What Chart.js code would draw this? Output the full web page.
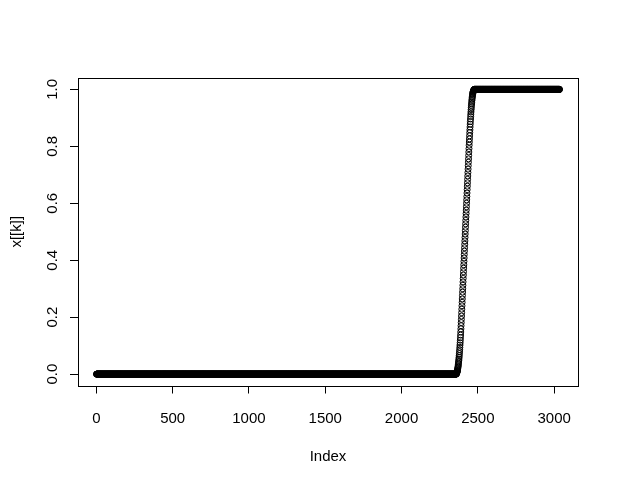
<!DOCTYPE html>
<html>
<head>
<meta charset="utf-8">
<script src="https://cdn.jsdelivr.net/npm/chart.js@4.4.1/dist/chart.umd.min.js"></script>
<style>
    html, body { margin: 0; padding: 0; background: #ffffff; }
    #plot { display: block; }
</style>
</head>
<body>
<canvas id="plot" width="618" height="484"></canvas>
<script>
// x[[k]] plotted against its index, R base-graphics style

// Flat part before the rise
const lowLevel = 0;
const lowCount = 2357;          // indices 1 .. 2357

// The rise, one value per index, starting at index 2358
const riseValues = [
    0.000, 0.001, 0.002, 0.003, 0.004, 0.006, 0.008, 0.010, 0.012, 0.015,
    0.018, 0.021, 0.025, 0.029, 0.033, 0.038, 0.043, 0.048, 0.053, 0.059,
    0.065, 0.072, 0.079, 0.086, 0.094, 0.102, 0.110, 0.119, 0.128, 0.137,
    0.148, 0.159, 0.170, 0.181, 0.192, 0.204, 0.216, 0.228, 0.240, 0.252,
    0.264, 0.276, 0.288, 0.300, 0.312, 0.324, 0.336, 0.348, 0.360, 0.372,
    0.384, 0.396, 0.408, 0.420, 0.432, 0.444, 0.456, 0.468, 0.480, 0.492,
    0.504, 0.516, 0.528, 0.540, 0.552, 0.564, 0.576, 0.588, 0.600, 0.612,
    0.624, 0.636, 0.648, 0.660, 0.672, 0.684, 0.696, 0.708, 0.720, 0.732,
    0.744, 0.756, 0.768, 0.780, 0.792, 0.804, 0.815, 0.826, 0.837, 0.848,
    0.858, 0.868, 0.878, 0.887, 0.896, 0.905, 0.913, 0.921, 0.929, 0.936,
    0.943, 0.949, 0.955, 0.961, 0.966, 0.971, 0.975, 0.979, 0.983, 0.986,
    0.989, 0.991, 0.993, 0.995, 0.996, 0.997, 0.998, 0.999, 0.999, 1.000
];

// Flat part after the rise
const highLevel = 1;
const highCount = 558;          // indices 2478 .. 3035

// Axis ticks
const xTicks = [0, 500, 1000, 1500, 2000, 2500, 3000];
const xTickLabels = ['0', '500', '1000', '1500', '2000', '2500', '3000'];
const yTicks = [0, 0.2, 0.4, 0.6, 0.8, 1.0];
const yTickLabels = ['0.0', '0.2', '0.4', '0.6', '0.8', '1.0'];

// Build the series
const series = [];
let idx = 1;
for (let i = 0; i < lowCount; i++) series.push({ x: idx++, y: lowLevel });
for (let i = 0; i < riseValues.length; i++) series.push({ x: idx++, y: riseValues[i] });
for (let i = 0; i < highCount; i++) series.push({ x: idx++, y: highLevel });
const n = series.length;

// R pads the data range by 4% on each side
const xPad = (n - 1) * 0.04;
const yPad = 0.04;

const FONT = 'Liberation Sans, Arial, sans-serif';

// Box round the plot area and the rotated y tick labels
const rAxesPlugin = {
    id: 'rAxes',
    afterDraw(chart) {
        const ctx = chart.ctx;
        const area = chart.chartArea;
        const yScale = chart.scales.y;
        ctx.save();
        ctx.strokeStyle = '#000000';
        ctx.lineWidth = 1;
        ctx.strokeRect(Math.round(area.left) + 0.5, Math.round(area.top) + 0.5,
            Math.round(area.right - area.left), Math.round(area.bottom - area.top));

        ctx.fillStyle = '#000000';
        ctx.font = '15px ' + FONT;
        ctx.textAlign = 'center';
        ctx.textBaseline = 'middle';
        yTicks.forEach(function(v, i) {
            const py = yScale.getPixelForValue(v);
            ctx.save();
            ctx.translate(53, py);
            ctx.rotate(-Math.PI / 2);
            ctx.fillText(yTickLabels[i], 0, 0);
            ctx.restore();
        });
        ctx.restore();
    }
};

const ctx = document.getElementById('plot').getContext('2d');
new Chart(ctx, {
    type: 'scatter',
    data: {
        datasets: [{
            data: series,
            showLine: false,
            pointStyle: 'circle',
            pointRadius: 3,
            pointHoverRadius: 3,
            borderWidth: 1,
            borderColor: '#000000',
            backgroundColor: 'rgba(0,0,0,0)'
        }]
    },
    options: {
        responsive: false,
        animation: false,
        events: [],
        layout: {
            padding: { top: 78, right: 40, left: 0, bottom: 0 }
        },
        plugins: {
            legend: { display: false },
            tooltip: { enabled: false }
        },
        scales: {
            x: {
                type: 'linear',
                min: 1 - xPad,
                max: n + xPad,
                afterBuildTicks: function(scale) {
                    scale.ticks = xTicks.map(v => ({ value: v }));
                },
                afterFit: function(scale) { scale.height = 98.5; },
                border: { display: false },
                grid: {
                    display: true,
                    drawOnChartArea: false,
                    drawTicks: true,
                    tickLength: 8,
                    color: '#000000',
                    lineWidth: 1
                },
                ticks: {
                    color: '#000000',
                    font: { family: FONT, size: 15 },
                    padding: 16,
                    maxRotation: 0,
                    minRotation: 0,
                    autoSkip: false,
                    callback: function(value) {
                        const i = xTicks.indexOf(value);
                        return i >= 0 ? xTickLabels[i] : '';
                    }
                },
                title: {
                    display: true,
                    text: 'Index',
                    color: '#000000',
                    font: { family: FONT, size: 15 },
                    padding: { top: 0, bottom: 18 }
                }
            },
            y: {
                type: 'linear',
                min: 0 - yPad,
                max: 1 + yPad,
                afterBuildTicks: function(scale) {
                    scale.ticks = yTicks.map(v => ({ value: v }));
                },
                afterFit: function(scale) { scale.width = 78; },
                border: { display: false },
                grid: {
                    display: true,
                    drawOnChartArea: false,
                    drawTicks: true,
                    tickLength: 8,
                    color: '#000000',
                    lineWidth: 1
                },
                ticks: { display: false },
                title: {
                    display: true,
                    text: 'x[[k]]',
                    color: '#000000',
                    font: { family: FONT, size: 15 },
                    padding: { top: 8, bottom: 0 }
                }
            }
        }
    },
    plugins: [rAxesPlugin]
});
</script>
</body>
</html>
